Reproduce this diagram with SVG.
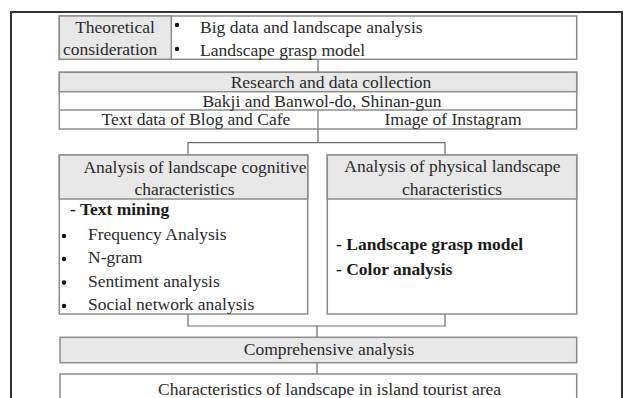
<svg xmlns="http://www.w3.org/2000/svg" width="623" height="398" viewBox="0 0 623 398">
<style>
  text { font-family: "Liberation Serif", "Times New Roman", serif; font-size: 17.5px; fill: #2a2a2a; }
  .b { font-weight: bold; fill: #1a1a1a; }
  .c { text-anchor: middle; }
  .box { fill: #ffffff; stroke: #8c8c8c; stroke-width: 1.5; }
  .gray { fill: #e8e8e8; stroke: #8c8c8c; stroke-width: 1.5; }
  .sep { stroke: #8c8c8c; stroke-width: 1.5; fill: none; }
  .conn { stroke: #6a6a6a; stroke-width: 1.2; fill: none; }
  .dot { fill: #111111; }
</style>
<rect x="0" y="0" width="623" height="398" fill="#ffffff"/>
<rect x="11" y="12" width="611" height="400" fill="none" stroke="#333333" stroke-width="2"/>

<g id="connectors">
  <line class="conn" x1="318" y1="59.3" x2="318" y2="72.3"/>
  <polyline class="conn" points="318,129 318,142.7"/>
  <polyline class="conn" points="188,155 188,142.7 445,142.7 445,155"/>
  <polyline class="conn" points="188,314 188,326 445,326 445,314"/>
  <line class="conn" x1="317" y1="326" x2="317" y2="337.3"/>
  <line class="conn" x1="317" y1="362.7" x2="317" y2="374"/>
</g>

<g id="theoretical">
  <rect class="box" x="59.3" y="16" width="517.4" height="43.3"/>
  <rect class="gray" x="59.3" y="16" width="112" height="43.3"/>
  <text class="c" x="115" y="33">Theoretical</text>
  <text x="63" y="55">consideration</text>
  <circle class="dot" cx="177" cy="25" r="2.2"/>
  <circle class="dot" cx="177" cy="49" r="2.2"/>
  <text x="200" y="33">Big data and landscape analysis</text>
  <text x="200" y="56">Landscape grasp model</text>
</g>

<g id="research">
  <rect class="box" x="59.3" y="72.3" width="517.4" height="56.7"/>
  <rect class="gray" x="59.3" y="72.3" width="517.4" height="19.4"/>
  <line class="sep" x1="59.3" y1="110" x2="576.7" y2="110"/>
  <line class="sep" x1="318" y1="110" x2="318" y2="129"/>
  <text class="c" x="331" y="88">Research and data collection</text>
  <text class="c" x="322" y="106.5">Bakji and Banwol-do, Shinan-gun</text>
  <text x="101.5" y="125">Text data of Blog and Cafe</text>
  <text class="c" x="453" y="125">Image of Instagram</text>
</g>

<g id="cognitive">
  <rect class="box" x="59.3" y="155" width="248.4" height="159"/>
  <rect class="gray" x="59.3" y="155" width="248.4" height="44"/>
  <text class="c" x="195" y="173">Analysis of landscape cognitive</text>
  <text class="c" x="184.5" y="195">characteristics</text>
  <text class="b" x="70" y="215">- Text mining</text>
  <circle class="dot" cx="64" cy="236" r="2.2"/>
  <text x="88" y="240">Frequency Analysis</text>
  <circle class="dot" cx="64" cy="259" r="2.2"/>
  <text x="88" y="263">N-gram</text>
  <circle class="dot" cx="64" cy="282.5" r="2.2"/>
  <text x="88" y="286.7">Sentiment analysis</text>
  <circle class="dot" cx="64" cy="306" r="2.2"/>
  <text x="88" y="310">Social network analysis</text>
</g>

<g id="physical">
  <rect class="box" x="327.3" y="155" width="249.4" height="159"/>
  <rect class="gray" x="327.3" y="155" width="249.4" height="44"/>
  <text class="c" x="452.5" y="171.7">Analysis of physical landscape</text>
  <text class="c" x="452" y="195">characteristics</text>
  <text class="b" x="336" y="250">- Landscape grasp model</text>
  <text class="b" x="336" y="275">- Color analysis</text>
</g>

<g id="comprehensive">
  <rect class="gray" x="60" y="337.3" width="516.7" height="25.4"/>
  <text class="c" x="329" y="355">Comprehensive analysis</text>
</g>

<g id="characteristics">
  <rect class="box" x="60" y="374" width="516.7" height="40"/>
  <text class="c" x="329.5" y="395">Characteristics of landscape in island tourist area</text>
</g>
</svg>
